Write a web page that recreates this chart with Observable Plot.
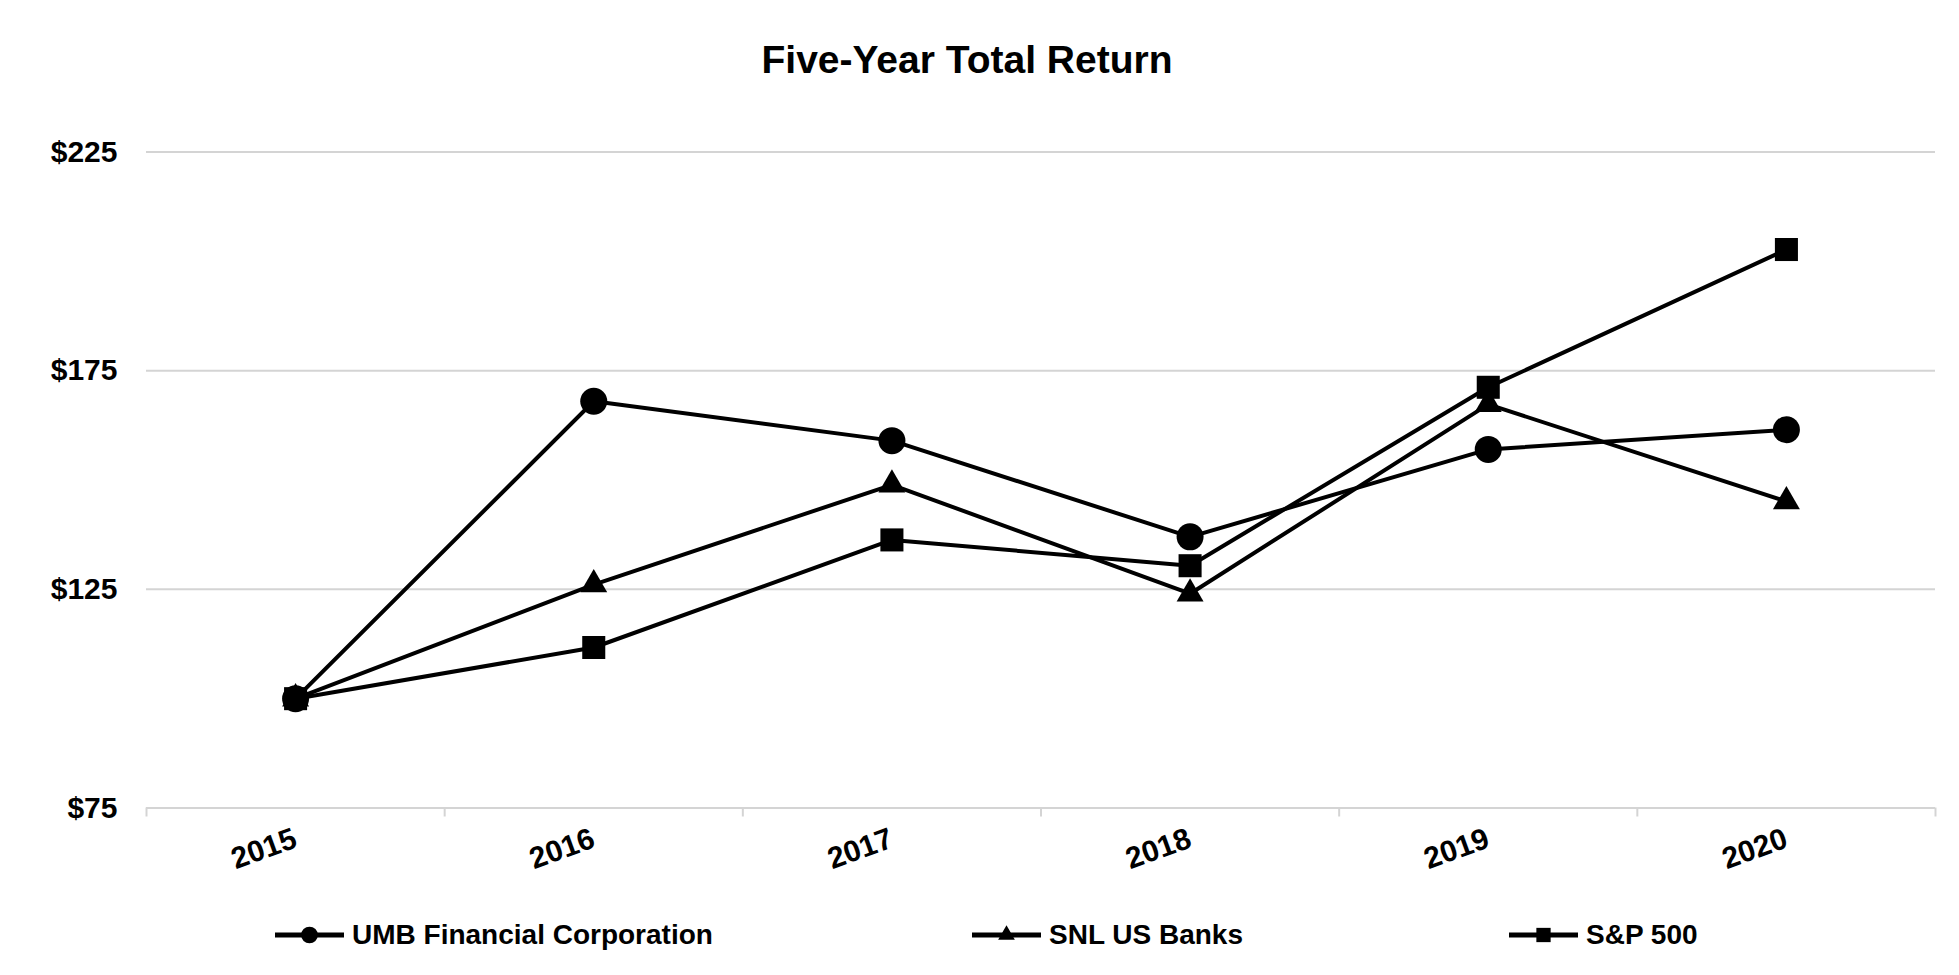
<!DOCTYPE html>
<html><head><meta charset="utf-8">
<script src="https://cdn.jsdelivr.net/npm/d3@7"></script>
<script src="https://cdn.jsdelivr.net/npm/@observablehq/plot@0.6"></script>
<style>
html,body{margin:0;padding:0;background:#fff;}
#wrap{position:relative;width:1959px;height:975px;font-family:"Liberation Sans",Arial,sans-serif;color:#000;overflow:hidden;}
#title{position:absolute;left:0;top:40px;width:1934px;text-align:center;font-size:39px;line-height:39px;font-weight:bold;}
#chart{position:absolute;left:0;top:100px;}
#legend{position:absolute;left:0;top:915px;width:1959px;height:40px;}
.item{position:absolute;top:0;height:40px;display:flex;align-items:center;font-size:28px;font-weight:bold;white-space:nowrap;}
.item svg{margin-right:8px;display:block;}
</style></head><body>
<div id="wrap">
  <div id="title">Five-Year Total Return</div>
  <div id="chart"></div>
  <div id="legend"></div>
</div>
<script>
// ---- data ----
const years = ["2015", "2016", "2017", "2018", "2019", "2020"];
const seriesNames = ["UMB Financial Corporation", "SNL US Banks", "S&P 500"];
const umb = [100, 168.0, 159.0, 137.0, 157.0, 161.5];
const snl = [100, 126.1, 148.9, 124.0, 167.3, 145.1];
const sp500 = [100, 111.7, 136.3, 130.4, 171.2, 202.7];
const yTicks = [75, 125, 175, 225];

// ---- styling ----
const symbols = ["circle", "triangle", "square"];
const radii = [13.5, 10, 13];
const legendLeft = [275, 972, 1509];
const seriesValues = [umb, snl, sp500];

const rows = seriesNames.map((name, s) =>
  seriesValues[s].map((v, i) => ({series: name, i, year: years[i], value: v}))
);
const boundaries = d3.range(-0.5, years.length, 1);

const marks = [
  Plot.ruleY(yTicks, {y: d => d, stroke: "#d4d4d4", strokeWidth: 2}),
  Plot.axisX(boundaries, {tickSize: 9, tickFormat: () => "", label: null, stroke: "#d4d4d4", strokeWidth: 2}),
  Plot.text(yTicks, {y: d => d, text: d => "$" + d, frameAnchor: "left", dx: -29, textAnchor: "end",
    fontSize: 30, fontWeight: "bold", fill: "#000"}),
  Plot.text(years, {x: (d, i) => i, text: d => d, frameAnchor: "bottom", dy: 38.5, dx: 3,
    textAnchor: "end", lineAnchor: "bottom", rotate: -20, fontSize: 30, fontWeight: "bold", fill: "#000"})
];
rows.forEach((r, s) => {
  marks.push(Plot.line(r, {x: "i", y: "value", stroke: "#000", strokeWidth: 4, strokeLinejoin: "round"}));
  marks.push(Plot.dot(r, {x: "i", y: "value", symbol: symbols[s], r: radii[s], fill: "#000", stroke: "none"}));
});

const chart = Plot.plot({
  width: 1959,
  height: 800,
  marginLeft: 146,
  marginRight: 24,
  marginTop: 51.5,
  marginBottom: 92.5,
  style: {fontFamily: "'Liberation Sans', Arial, sans-serif", background: "#fff", overflow: "visible"},
  x: {domain: [-0.5, years.length - 0.5], axis: null, label: null},
  y: {domain: [75, 225], axis: null},
  marks
});
document.getElementById("chart").appendChild(chart);

// ---- legend ----
const legend = document.getElementById("legend");
seriesNames.forEach((name, s) => {
  const item = document.createElement("div");
  item.className = "item";
  item.style.left = legendLeft[s] + "px";
  const ns = "http://www.w3.org/2000/svg";
  const svg = document.createElementNS(ns, "svg");
  svg.setAttribute("width", 69); svg.setAttribute("height", 30);
  const line = document.createElementNS(ns, "line");
  line.setAttribute("x1", 0); line.setAttribute("x2", 69);
  line.setAttribute("y1", 15); line.setAttribute("y2", 15);
  line.setAttribute("stroke", "#000"); line.setAttribute("stroke-width", 5);
  svg.appendChild(line);
  const symMap = {circle: d3.symbolCircle, triangle: d3.symbolTriangle, square: d3.symbolSquare};
  const rr = radii[s] * 0.62;
  const path = document.createElementNS(ns, "path");
  path.setAttribute("d", d3.symbol(symMap[symbols[s]], Math.PI * rr * rr)());
  path.setAttribute("transform", "translate(34.5,15)");
  path.setAttribute("fill", "#000");
  svg.appendChild(path);
  item.appendChild(svg);
  const t = document.createElement("span");
  t.textContent = name;
  item.appendChild(t);
  legend.appendChild(item);
});
</script>
</body></html>
